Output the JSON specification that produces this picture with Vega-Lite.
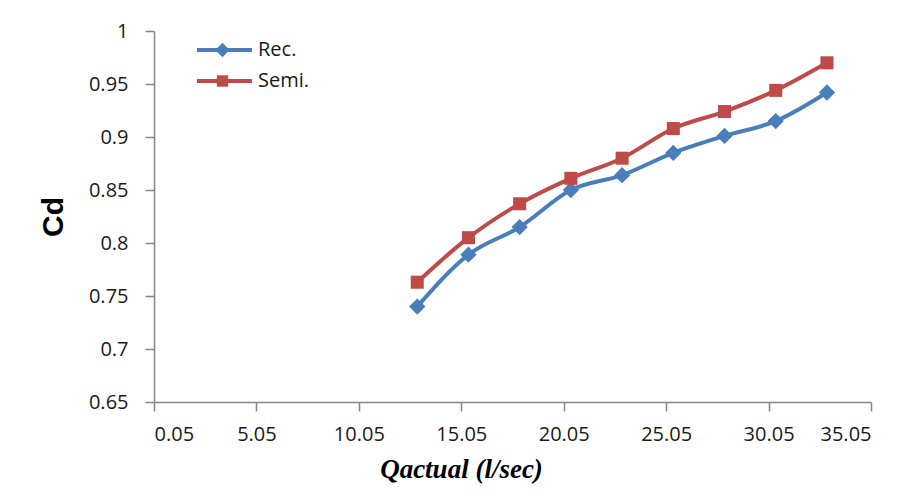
{
  "$schema": "https://vega.github.io/schema/vega-lite/v6.json",
  "width": 717,
  "height": 371,
  "autosize": {"type": "none"},
  "padding": {"left": 154, "top": 31, "right": 36, "bottom": 97},
  "background": "white",
  "config": {
    "font": "Open Sans",
    "view": {"stroke": null},
    "axis": {
      "grid": false,
      "domainColor": "#868686",
      "domainWidth": 1.5,
      "tickColor": "#868686",
      "tickWidth": 1.5,
      "tickSize": 9,
      "labelFont": "Open Sans",
      "labelFontSize": 20,
      "labelColor": "#1a1a1a"
    }
  },
  "data": {
    "values": [
      {"q": 12.9, "cd": 0.740, "series": "Rec."},
      {"q": 15.4, "cd": 0.789, "series": "Rec."},
      {"q": 17.9, "cd": 0.815, "series": "Rec."},
      {"q": 20.4, "cd": 0.850, "series": "Rec."},
      {"q": 22.9, "cd": 0.864, "series": "Rec."},
      {"q": 25.4, "cd": 0.885, "series": "Rec."},
      {"q": 27.9, "cd": 0.901, "series": "Rec."},
      {"q": 30.4, "cd": 0.915, "series": "Rec."},
      {"q": 32.9, "cd": 0.942, "series": "Rec."},
      {"q": 12.9, "cd": 0.763, "series": "Semi."},
      {"q": 15.4, "cd": 0.805, "series": "Semi."},
      {"q": 17.9, "cd": 0.837, "series": "Semi."},
      {"q": 20.4, "cd": 0.861, "series": "Semi."},
      {"q": 22.9, "cd": 0.880, "series": "Semi."},
      {"q": 25.4, "cd": 0.908, "series": "Semi."},
      {"q": 27.9, "cd": 0.924, "series": "Semi."},
      {"q": 30.4, "cd": 0.944, "series": "Semi."},
      {"q": 32.9, "cd": 0.970, "series": "Semi."}
    ]
  },
  "encoding": {
    "x": {
      "field": "q",
      "type": "quantitative",
      "scale": {"domain": [0.05, 35.05], "nice": false, "zero": false},
      "axis": {
        "values": [0.05, 5.05, 10.05, 15.05, 20.05, 25.05, 30.05, 35.05],
        "format": ".2f",
        "labelPadding": 13,
        "title": "Qactual (l/sec)",
        "titleFont": "Liberation Serif",
        "titleFontStyle": "italic",
        "titleFontWeight": "bold",
        "titleFontSize": 27,
        "titleColor": "#000000",
        "titleX": 307,
        "titleAlign": "center",
        "titlePadding": 12
      }
    },
    "y": {
      "field": "cd",
      "type": "quantitative",
      "scale": {"domain": [0.65, 1], "nice": false, "zero": false},
      "axis": {
        "values": [0.65, 0.7, 0.75, 0.8, 0.85, 0.9, 0.95, 1],
        "format": ".2~f",
        "labelPadding": 17,
        "title": "Cd",
        "titleFont": "Liberation Sans",
        "titleFontWeight": "bold",
        "titleFontSize": 30,
        "titleColor": "#000000",
        "titlePadding": 20
      }
    }
  },
  "layer": [
    {
      "mark": {"type": "line", "interpolate": "monotone", "strokeWidth": 4},
      "encoding": {
        "stroke": {
          "field": "series",
          "type": "nominal",
          "scale": {"domain": ["Rec.", "Semi."], "range": ["#4A7EBB", "#BE4B48"]},
          "legend": {
            "orient": "none",
            "legendX": 41,
            "legendY": 9,
            "title": null,
            "padding": 0,
            "symbolType": "stroke",
            "symbolSize": 3025,
            "symbolStrokeWidth": 4,
            "clipHeight": 20,
            "rowPadding": 11,
            "labelFont": "Open Sans",
            "labelFontSize": 20,
            "labelColor": "#1a1a1a",
            "labelOffset": 4
          }
        }
      }
    },
    {
      "mark": {"type": "point", "filled": true, "size": 170, "opacity": 1},
      "encoding": {
        "fill": {
          "field": "series",
          "type": "nominal",
          "scale": {"range": ["#4A7EBB", "#BE4B48"]},
          "legend": {
            "orient": "none",
            "legendX": 62,
            "legendY": 9,
            "title": null,
            "padding": 0,
            "symbolSize": 130,
            "symbolOpacity": 1,
            "clipHeight": 20,
            "rowPadding": 11,
            "labelExpr": "''"
          }
        },
        "shape": {
          "field": "series",
          "type": "nominal",
          "scale": {"range": ["M0,-1.25L1.25,0L0,1.25L-1.25,0Z", "square"]},
          "legend": {
            "orient": "none",
            "legendX": 62,
            "legendY": 9,
            "title": null,
            "padding": 0,
            "symbolSize": 130,
            "symbolOpacity": 1,
            "clipHeight": 20,
            "rowPadding": 11,
            "labelExpr": "''"
          }
        }
      }
    }
  ]
}
